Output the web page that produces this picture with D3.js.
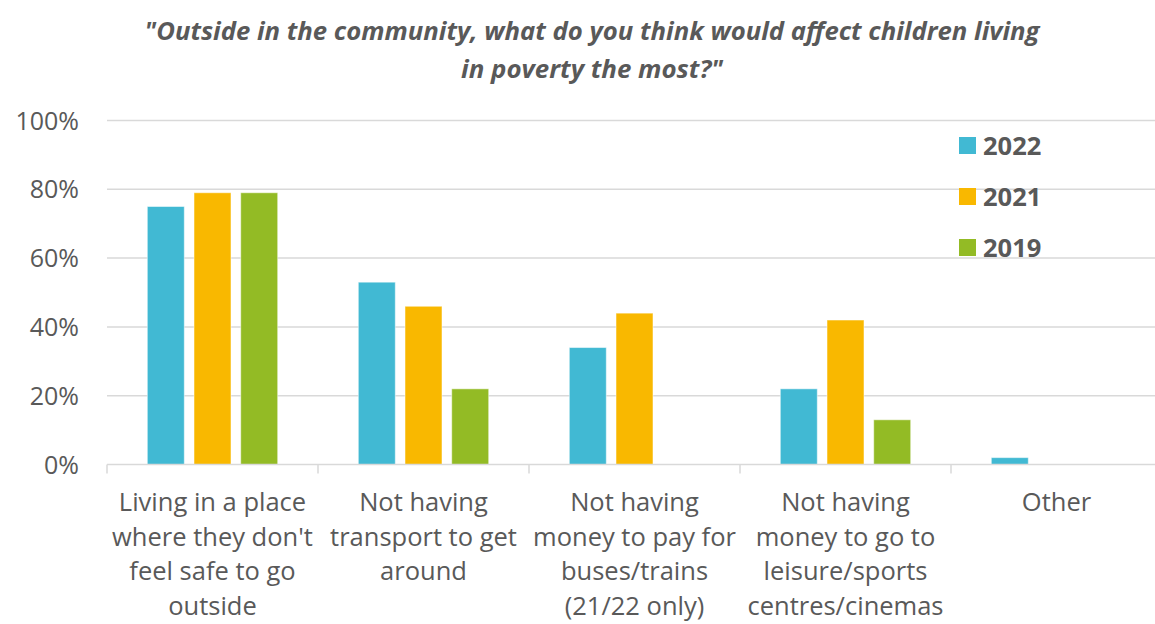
<!DOCTYPE html>
<html><head><meta charset="utf-8">
<script src="https://cdn.jsdelivr.net/npm/d3@7"></script>
<style>body{margin:0;background:#fff;} svg{display:block;}</style>
</head><body>
<script>
const categories = ["Living in a place where they don't feel safe to go outside","Not having transport to get around","Not having money to pay for buses/trains (21/22 only)","Not having money to go to leisure/sports centres/cinemas","Other"];
const categoryLines = [
  ["Living in a place","where they don't","feel safe to go","outside"],
  ["Not having","transport to get","around"],
  ["Not having","money to pay for","buses/trains","(21/22 only)"],
  ["Not having","money to go to","leisure/sports","centres/cinemas"],
  ["Other"]
];
const seriesNames = ["2022","2021","2019"];
const values2022 = [75,53,34,22,2];
const values2021 = [79,46,44,42,null];
const values2019 = [79,22,null,13,null];
const yTicks = [0,20,40,60,80,100];
const titleLines = ["\"Outside in the community, what do you think would affect children living","in poverty the most?\""];
const colors = ["#41B9D3","#F9B800","#93BB25"];

const W=1155,H=624;
const svg=d3.select("body").append("svg").attr("width",W).attr("height",H);
const x0=d3.scaleBand().domain(categories).range([107,1162]).paddingInner(0).paddingOuter(0);
const x1=d3.scaleBand().domain(seriesNames).range([0,x0.bandwidth()]).paddingInner(0.208).paddingOuter(0.863);
const y=d3.scaleLinear().domain([0,100]).range([464.5,120.5]);
const font="'Open Sans', sans-serif";
const grey="#595959";

// gridlines
svg.append("g").selectAll("line").data(yTicks.filter(d=>d>0)).join("line")
  .attr("x1",107).attr("x2",1162).attr("y1",d=>y(d)).attr("y2",d=>y(d))
  .attr("stroke","#d9d9d9").attr("stroke-width",1.5);

// y labels
svg.append("g").selectAll("text").data(yTicks).join("text")
  .attr("x",79).attr("y",d=>y(d)+9).attr("text-anchor","end")
  .attr("font-family",font).attr("font-size",25).attr("fill",grey)
  .text(d=>d+"%");

// bars
const series=[values2022,values2021,values2019];
const barData=[];
categories.forEach((c,i)=>seriesNames.forEach((s,j)=>{const v=series[j][i]; if(v!=null) barData.push({c,s,v,j});}));
svg.append("g").selectAll("rect").data(barData).join("rect")
  .attr("x",d=>x0(d.c)+x1(d.s)).attr("width",x1.bandwidth())
  .attr("y",d=>y(d.v)).attr("height",d=>y(0)-y(d.v))
  .attr("fill",d=>colors[d.j]).attr("stroke","rgba(255,255,255,0.5)").attr("stroke-width",1);

// x axis line and ticks
svg.append("line").attr("x1",107).attr("x2",1162).attr("y1",y(0)).attr("y2",y(0)).attr("stroke","#d9d9d9").attr("stroke-width",1.5);
const tickXs=categories.map(c=>x0(c)).concat([x0.range()[1]]);
svg.append("g").selectAll("line").data(tickXs).join("line")
  .attr("x1",d=>d).attr("x2",d=>d).attr("y1",y(0)).attr("y2",y(0)+9)
  .attr("stroke","#d9d9d9").attr("stroke-width",1.5);

// category labels
const cl=svg.append("g").selectAll("text").data(categories).join("text")
  .attr("text-anchor","middle").attr("font-family",font).attr("font-size",25.5).attr("fill",grey)
  .attr("x",d=>x0(d)+x0.bandwidth()/2).attr("y",511);
cl.each(function(d,i){
  d3.select(this).selectAll("tspan").data(categoryLines[i]).join("tspan")
    .attr("x",x0(d)+x0.bandwidth()/2).attr("dy",(t,k)=>k===0?0:34.5).text(t=>t);
});

// legend
const lg=svg.append("g").selectAll("g").data(seriesNames).join("g")
  .attr("transform",(d,i)=>`translate(959,${137+i*51})`);
lg.append("rect").attr("width",17).attr("height",17).attr("fill",(d,i)=>colors[i]);
lg.append("text").attr("x",24).attr("y",17.5).attr("font-family",font).attr("font-weight","bold")
  .attr("font-size",25.5).attr("fill",grey).text(d=>d);

// title
svg.append("g").selectAll("text").data(titleLines).join("text")
  .attr("x",592).attr("y",(d,i)=>40+i*38).attr("text-anchor","middle")
  .attr("font-family",font).attr("font-weight","bold").attr("font-style","italic")
  .attr("font-size",25).attr("fill",grey)
  .attr("textLength",(d,i)=>i===0?895:262).attr("lengthAdjust","spacingAndGlyphs")
  .text(d=>d);
</script>
</body></html>
